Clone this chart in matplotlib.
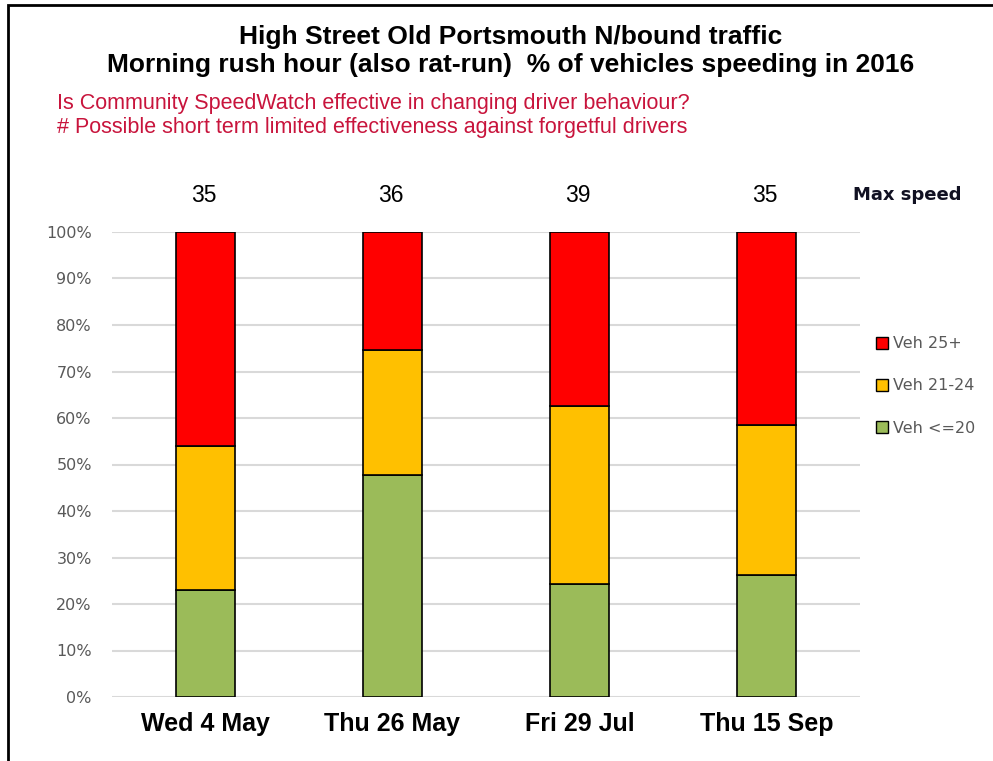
import matplotlib.pyplot as plt
from matplotlib.patches import Patch, Rectangle

plt.rcParams['font.family'] = ['Liberation Sans', 'DejaVu Sans']

# data (percent of vehicles)
dates = ['Wed 4 May', 'Thu 26 May', 'Fri 29 Jul', 'Thu 15 Sep']
veh_le20 = [23.0, 47.7, 24.3, 26.2]
veh_21_24 = [31.0, 26.9, 38.3, 32.3]
veh_25plus = [46.0, 25.4, 37.4, 41.5]
max_speed = [35, 36, 39, 35]

green = '#9BBB59'
yellow = '#FFC000'
red = '#FF0000'

fig = plt.figure(figsize=(9.93, 7.61), dpi=100)
ax = fig.add_axes([112/993, 1-697/761, 748/993, 465/761])

x = list(range(len(dates)))
w = 0.315
bottom2 = veh_le20
bottom3 = [a + b for a, b in zip(veh_le20, veh_21_24)]
ax.bar(x, veh_le20, w, color=green, edgecolor='black', linewidth=1.2, zorder=3)
ax.bar(x, veh_21_24, w, bottom=bottom2, color=yellow, edgecolor='black', linewidth=1.2, zorder=3)
ax.bar(x, veh_25plus, w, bottom=bottom3, color=red, edgecolor='black', linewidth=1.2, zorder=3)

ax.set_xlim(-0.5, 3.5)
ax.set_ylim(0, 100)
ax.set_yticks(range(0, 101, 10))
ax.set_yticklabels([f'{v}%' for v in range(0, 101, 10)], color='#595959', fontsize=11.5,
                   family='DejaVu Sans')
ax.set_xticks(x)
ax.set_xticklabels(dates, fontsize=18, fontweight='bold')
ax.tick_params(length=0)
ax.tick_params(axis='y', pad=14.5)
ax.tick_params(axis='x', pad=11)
ax.grid(axis='y', color='#D9D9D9', linewidth=1.5, zorder=0)
for s in ax.spines.values():
    s.set_visible(False)

# max speed labels above bars
for xi, ms in zip(x, max_speed):
    ax.text(xi - 0.01, 107.8, str(ms), ha='center', va='center', fontsize=16.5)
fig.text(907/993, 1-195/761, 'Max speed', ha='center', va='center', fontsize=13, fontweight='bold',
         family='DejaVu Sans', color='#111122')

# titles
fig.text(511/993, 1-37/761, 'High Street Old Portsmouth N/bound traffic', ha='center', va='center',
         fontsize=19, fontweight='bold')
fig.text(511/993, 1-65/761, 'Morning rush hour (also rat-run)  % of vehicles speeding in 2016', ha='center',
         va='center', fontsize=19, fontweight='bold')
fig.text(57/993, 1-103/761, 'Is Community SpeedWatch effective in changing driver behaviour?', ha='left',
         va='center', fontsize=15.5, color='#C8143C')
fig.text(57/993, 1-128/761, '# Possible short term limited effectiveness against forgetful drivers', ha='left',
         va='center', fontsize=15.5, color='#C8143C')

handles = [Patch(facecolor=red, edgecolor='black', label='Veh 25+'),
           Patch(facecolor=yellow, edgecolor='black', label='Veh 21-24'),
           Patch(facecolor=green, edgecolor='black', label='Veh <=20')]
leg = fig.legend(handles=handles, loc='center left', bbox_to_anchor=(862/993, 1-386/761), frameon=False,
                 prop={'family': 'DejaVu Sans', 'size': 11.5}, handlelength=0.75, handleheight=0.75,
                 handletextpad=0.3, labelspacing=1.7)
for t in leg.get_texts():
    t.set_color('#595959')

# figure border
fig.add_artist(Rectangle((8/993, -0.01), 1.0, 1 - 5/761 + 0.01, transform=fig.transFigure,
                         fill=False, edgecolor='black', linewidth=2))

fig.savefig('out.png', dpi=100)
